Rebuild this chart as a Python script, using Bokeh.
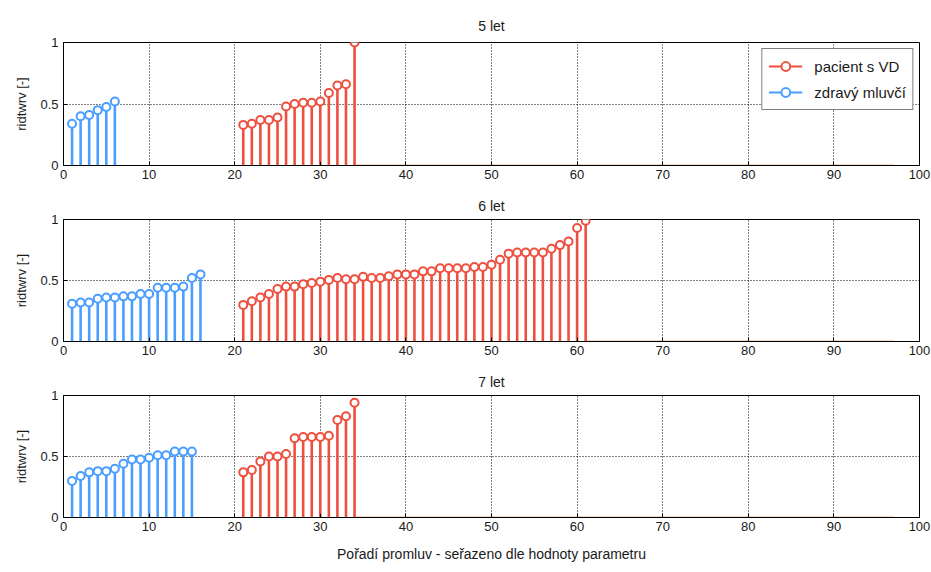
from bokeh.plotting import figure
from bokeh.layouts import column
from bokeh.models import Range1d, FixedTicker, Legend, LegendItem
from bokeh.embed import file_html
from bokeh.resources import INLINE

# ---- data ----
titles = ["5 let", "6 let", "7 let"]

healthy_5 = [0.34, 0.40, 0.41, 0.45, 0.475, 0.52]
patient_5 = [0.33, 0.34, 0.37, 0.37, 0.39, 0.48, 0.50, 0.51, 0.51, 0.52, 0.59, 0.65, 0.66, 1.00]

healthy_6 = [0.31, 0.32, 0.32, 0.35, 0.36, 0.36, 0.37, 0.37, 0.39, 0.39, 0.44, 0.44, 0.44, 0.45, 0.52, 0.55]
patient_6 = [0.30, 0.33, 0.36, 0.39, 0.43, 0.45, 0.45, 0.47, 0.48, 0.49, 0.505, 0.52, 0.51, 0.51,
             0.53, 0.52, 0.52, 0.535, 0.55, 0.55, 0.55, 0.575, 0.575, 0.60, 0.60, 0.60, 0.60,
             0.61, 0.61, 0.63, 0.67, 0.72, 0.73, 0.73, 0.73, 0.73, 0.76, 0.79, 0.82, 0.93, 0.99]

healthy_7 = [0.30, 0.34, 0.37, 0.38, 0.38, 0.40, 0.44, 0.475, 0.475, 0.49, 0.51, 0.51, 0.54, 0.54, 0.54]
patient_7 = [0.37, 0.39, 0.46, 0.50, 0.50, 0.52, 0.65, 0.66, 0.66, 0.66, 0.67, 0.80, 0.83, 0.94]

healthy_series = [healthy_5, healthy_6, healthy_7]
patient_series = [patient_5, patient_6, patient_7]
patient_start = 21
baseline_end = 97

x_ticks = [0, 10, 20, 30, 40, 50, 60, 70, 80, 90, 100]
y_ticks = [0, 0.5, 1]

legend_labels = ["pacient s VD", "zdravý mluvčí"]
y_label = "ridtwrv [-]"
x_label = "Pořadí promluv - seřazeno dle hodnoty parametru"

RED = "#EE5040"
BLUE = "#4A9EFF"
FONT = "Liberation Sans"
TXT = "#1a1a1a"

figs = []
heights = [189, 176, 204]
tops = [42, 28, 28]
bottoms = [24, 24, 52]

for k in range(3):
    p = figure(width=931, height=heights[k], output_backend="svg", toolbar_location=None,
               x_range=Range1d(0, 100), y_range=Range1d(0, 1),
               min_border_left=63, min_border_right=12,
               min_border_top=tops[k], min_border_bottom=bottoms[k],
               title=titles[k])
    p.title.align = "center"
    p.title.text_font = FONT
    p.title.text_font_size = "14px"
    p.title.text_font_style = "normal"
    p.title.text_color = TXT
    p.title.standoff = 17 if k == 0 else 12

    p.outline_line_color = "black"
    p.outline_line_width = 1
    p.outline_line_alpha = 1

    for ax in (p.xaxis[0], p.yaxis[0]):
        ax.major_tick_in = 4
        ax.major_tick_out = 0
        ax.minor_tick_line_color = None
        ax.axis_line_color = "black"
        ax.major_tick_line_color = "black"
        ax.major_label_text_font = FONT
        ax.major_label_text_font_size = "13px"
        ax.major_label_text_color = TXT
        ax.axis_label_text_font = FONT
        ax.axis_label_text_font_size = "13px"
        ax.axis_label_text_font_style = "normal"
        ax.axis_label_text_color = TXT
    p.xaxis.ticker = FixedTicker(ticks=x_ticks)
    p.yaxis.ticker = FixedTicker(ticks=y_ticks)
    p.yaxis.major_label_overrides = {0: "0", 0.5: "0.5", 1: "1"}
    p.yaxis.axis_label = y_label
    p.yaxis.axis_label_standoff = 8
    p.xaxis.major_label_standoff = 4
    if k == 2:
        p.xaxis.axis_label = x_label
        p.xaxis.axis_label_text_font_size = "14px"
        p.xaxis.axis_label_standoff = 12

    p.xgrid.ticker = FixedTicker(ticks=x_ticks[1:-1])
    p.ygrid.ticker = FixedTicker(ticks=[0.5])
    for g in (p.xgrid[0], p.ygrid[0]):
        g.grid_line_color = "black"
        g.grid_line_dash = "1 2"
        g.grid_line_width = 1

    h = healthy_series[k]
    pt = patient_series[k]
    hx = list(range(1, len(h) + 1))
    px = list(range(patient_start, patient_start + len(pt)))

    # baseline remainder (MATLAB stem baseline)
    p.segment(x0=[px[-1]], y0=[0], x1=[baseline_end], y1=[0], line_color=RED, line_width=1.5)

    p.segment(x0=hx, y0=[0] * len(hx), x1=hx, y1=h, line_color=BLUE, line_width=2.6)
    hc = p.scatter(hx, h, marker="circle", size=8, line_color=BLUE, line_width=2, fill_color="white")
    p.segment(x0=px, y0=[0] * len(px), x1=px, y1=pt, line_color=RED, line_width=2.6)
    pc = p.scatter(px, pt, marker="circle", size=8, line_color=RED, line_width=2, fill_color="white")

    if k == 0:
        lr = p.line([0, 0], [0, 0], line_color=RED, line_width=2)
        lb = p.line([0, 0], [0, 0], line_color=BLUE, line_width=2)
        legend = Legend(items=[LegendItem(label=legend_labels[0], renderers=[lr, pc]),
                               LegendItem(label=legend_labels[1], renderers=[lb, hc])],
                        location="top_right")
        legend.label_text_font = FONT
        legend.label_text_font_size = "15px"
        legend.label_text_color = TXT
        legend.border_line_color = "black"
        legend.border_line_width = 1
        legend.background_fill_color = "white"
        legend.background_fill_alpha = 1
        legend.glyph_width = 34
        legend.glyph_height = 22
        legend.label_height = 22
        legend.spacing = 4
        legend.padding = 6
        legend.margin = 6
        legend.label_standoff = 12
        p.add_layout(legend)
    figs.append(p)

layout = column(*figs, spacing=0)
open("out.html", "w").write(file_html(layout, INLINE))
